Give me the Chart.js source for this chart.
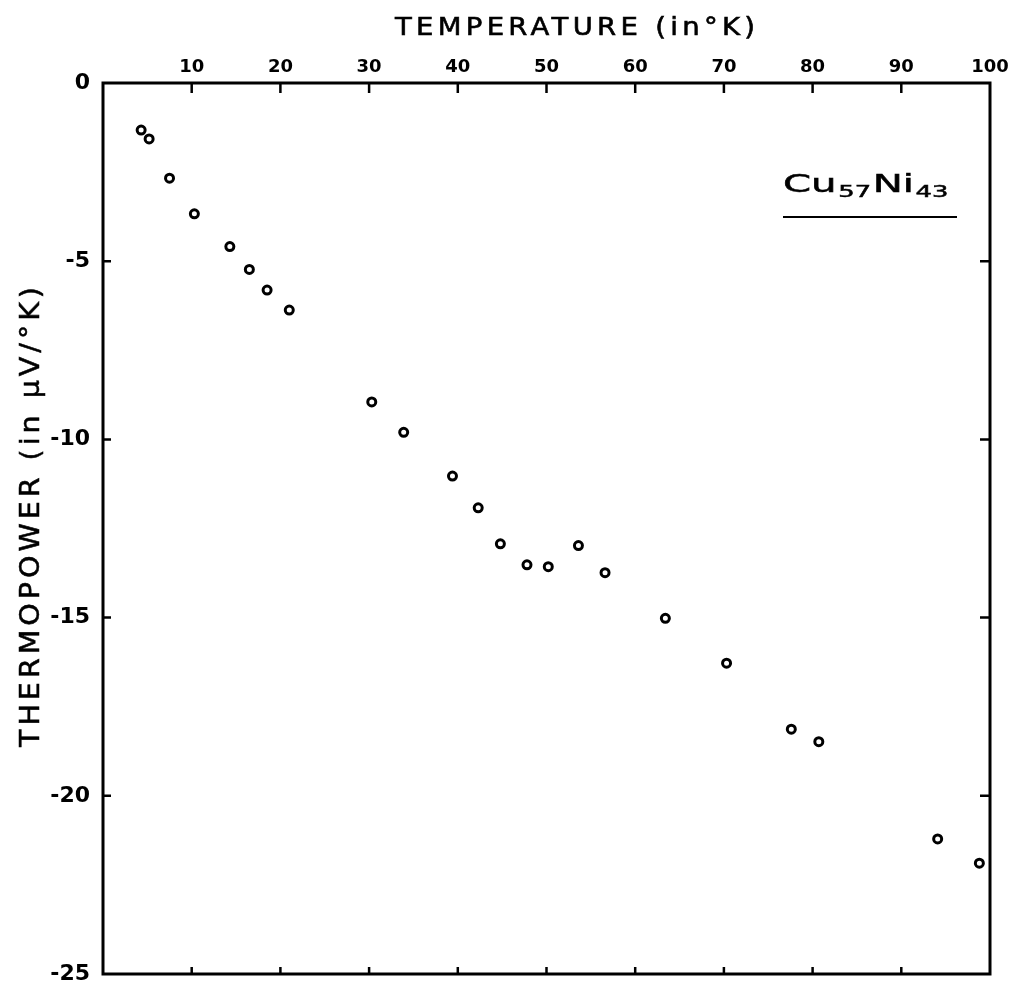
<!DOCTYPE html>
<html><head><meta charset="utf-8">
<script src="https://cdn.jsdelivr.net/npm/chart.js@4/dist/chart.umd.min.js"></script>
<style>html,body{margin:0;padding:0;background:#fff}#wrap{position:relative;width:1011px;height:983px}</style>
</head><body><div id="wrap"><canvas id="c"></canvas></div>
<script>
const temperature = [4.3, 5.2, 7.5, 10.3, 14.3, 16.5, 18.5, 21.0, 30.3, 33.9, 39.4, 42.3, 44.8, 47.8, 50.2, 53.6, 56.6, 63.4, 70.3, 77.6, 80.7, 94.1, 98.8];
const thermopower = [-1.32, -1.57, -2.67, -3.67, -4.59, -5.23, -5.81, -6.37, -8.95, -9.80, -11.03, -11.92, -12.93, -13.52, -13.57, -12.98, -13.74, -15.02, -16.28, -18.13, -18.48, -21.21, -21.89];
const xTickValues = [10, 20, 30, 40, 50, 60, 70, 80, 90, 100];
const yTickValues = [0, -5, -10, -15, -20, -25];
const xTitle = 'TEMPERATURE (in°K)';
const yTitle = 'THERMOPOWER (in μV/°K)';
const sampleLabel = [['Cu', false], ['57', true], ['Ni', false], ['43', true]];

const FONT = '"DejaVu Sans", sans-serif';

function spacedText(ctx, text, cx, cy, targetW, stretch, strokeW) {
  ctx.save();
  ctx.translate(cx, cy);
  ctx.scale(stretch, 1);
  ctx.letterSpacing = '0px';
  const w = ctx.measureText(text).width;
  const n = [...text].length;
  const sp = Math.max(0, (targetW / stretch - w) / (n - 1));
  ctx.letterSpacing = sp + 'px';
  ctx.textAlign = 'left';
  ctx.textBaseline = 'middle';
  const x0 = -(w + sp * (n - 1)) / 2;
  ctx.fillText(text, x0, 0);
  if (strokeW) { ctx.lineWidth = strokeW; ctx.strokeText(text, x0, 0); }
  ctx.letterSpacing = '0px';
  ctx.restore();
}

const decor = {
  id: 'decor',
  afterDraw(chart) {
    const {ctx, chartArea: a, scales: {x, y}} = chart;
    ctx.save();
    ctx.strokeStyle = '#000';
    ctx.fillStyle = '#000';
    ctx.lineWidth = 3;
    ctx.strokeRect(a.left, a.top, a.right - a.left, a.bottom - a.top);
    ctx.lineWidth = 2.5;
    ctx.beginPath();
    xTickValues.forEach(v => {
      const px = x.getPixelForValue(v);
      if (v < 100) {
        ctx.moveTo(px, a.top); ctx.lineTo(px, a.top + 10);
        ctx.moveTo(px, a.bottom); ctx.lineTo(px, a.bottom - 7);
      }
    });
    yTickValues.forEach(v => {
      const py = y.getPixelForValue(v);
      if (v < 0 && v > -25) {
        ctx.moveTo(a.left, py); ctx.lineTo(a.left + 8, py);
        ctx.moveTo(a.right, py); ctx.lineTo(a.right - 10, py);
      }
    });
    ctx.stroke();

    // axis titles
    ctx.font = '25px ' + FONT;
    spacedText(ctx, xTitle, 575, 28, 360, 1.1, 0.6);
    ctx.save();
    ctx.translate(32, 517);
    ctx.rotate(-Math.PI / 2);
    ctx.font = '26px ' + FONT;
    spacedText(ctx, yTitle, 0, 0, 460, 1.1, 0.5);
    ctx.restore();

    // sample label
    const startX = 783, endX = 950, base = 192;
    let total = 0;
    sampleLabel.forEach(([t, sub]) => {
      ctx.font = (sub ? '16px ' : '25px ') + FONT;
      total += ctx.measureText(t).width + 1;
    });
    const k = (endX - startX) / total;
    ctx.save();
    ctx.translate(startX, base);
    ctx.scale(k, 1);
    ctx.textAlign = 'left';
    ctx.textBaseline = 'alphabetic';
    let cx = 0;
    sampleLabel.forEach(([t, sub]) => {
      ctx.font = (sub ? '16px ' : '25px ') + FONT;
      ctx.lineWidth = 0.5;
      ctx.fillText(t, cx, sub ? 5 : 0);
      ctx.strokeText(t, cx, sub ? 5 : 0);
      cx += ctx.measureText(t).width + 1;
    });
    ctx.restore();
    ctx.lineWidth = 2.2;
    ctx.beginPath();
    ctx.moveTo(783, 217); ctx.lineTo(957, 217);
    ctx.stroke();
    ctx.restore();
  }
};

new Chart(document.getElementById('c'), {
  type: 'scatter',
  data: {
    datasets: [{
      data: temperature.map((t, i) => ({x: t, y: thermopower[i]})),
      pointStyle: 'circle',
      pointRadius: 4,
      pointBorderWidth: 3,
      borderColor: '#000',
      backgroundColor: 'rgba(0,0,0,0)',
      showLine: false
    }]
  },
  options: {
    animation: false,
    responsive: true,
    maintainAspectRatio: false,
    layout: {padding: {left: 0, top: 0, right: 21, bottom: 9}},
    plugins: {legend: {display: false}, tooltip: {enabled: false}},
    scales: {
      x: {
        type: 'linear', position: 'top', min: 0, max: 100,
        afterBuildTicks: s => { s.ticks = xTickValues.map(v => ({value: v})); },
        afterFit: s => { s.height = 83; s.paddingLeft = 0; s.paddingRight = 0; },
        grid: {display: false, drawTicks: false},
        border: {display: false},
        ticks: {padding: 5, color: '#000', maxRotation: 0, autoSkip: false,
          font: {family: FONT, size: 18, weight: 'bold'}}
      },
      y: {
        type: 'linear', position: 'left', min: -25, max: 0,
        afterBuildTicks: s => { s.ticks = yTickValues.map(v => ({value: v})); },
        afterFit: s => { s.width = 103; s.paddingTop = 0; s.paddingBottom = 0; },
        grid: {display: false, drawTicks: false},
        border: {display: false},
        ticks: {padding: 13, color: '#000', autoSkip: false,
          callback: v => String(v),
          font: {family: FONT, size: 22, weight: 'bold'}}
      }
    }
  },
  plugins: [decor]
});
</script>
</body></html>
